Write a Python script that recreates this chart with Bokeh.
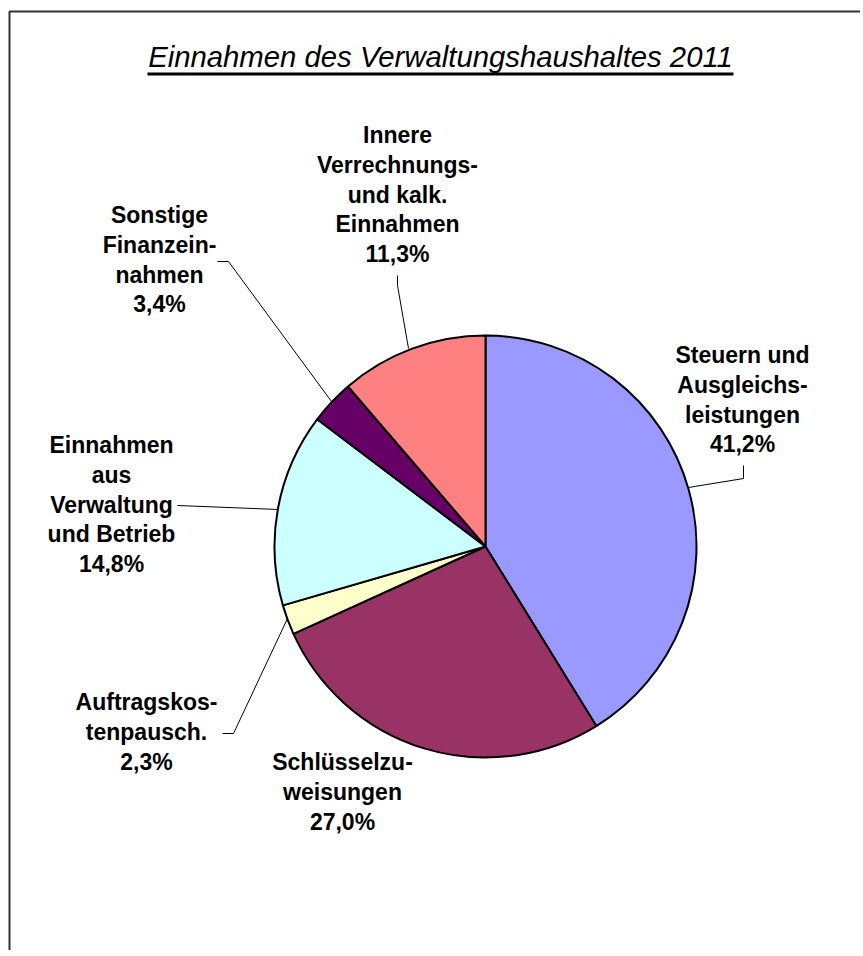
import math
from bokeh.plotting import figure
from bokeh.models import Range1d, ColumnDataSource
from bokeh.core.properties import value
from bokeh.embed import file_html
from bokeh.resources import INLINE

# ---- data ----
title_text = "Einnahmen des Verwaltungshaushaltes 2011"
categories = [
    "Steuern und\nAusgleichs-\nleistungen",
    "Schlüsselzu-\nweisungen",
    "Auftragskos-\ntenpausch.",
    "Einnahmen\naus\nVerwaltung\nund Betrieb",
    "Sonstige\nFinanzein-\nnahmen",
    "Innere\nVerrechnungs-\nund kalk.\nEinnahmen",
]
shares = [41.2, 27.0, 2.3, 14.8, 3.4, 11.3]
colors = ["#9999FF", "#993366", "#FFFFCC", "#CCFFFF", "#660066", "#FF8080"]

# ---- layout (screen pixel coordinates of the page) ----
W, H = 860, 950
OX, OY = 0, 0
def Y(ys):
    return (OY + H) - (ys - OY)  # convert screen y to data y

cx, cy, R = 485, 546, 211
label_anchor = [(742, 363), (342, 770), (146, 710), (111, 453), (159, 223), (397, 143)]
label_shift = 8.5
line_gap = 29.8
leaders = [
    [(688, 487), (743, 478), (743, 465)],
    None,
    [(222, 733), (233, 733), (287, 618)],
    [(177, 505), (278, 509)],
    [(217, 261), (228, 261), (331, 401)],
    [(397, 275), (397, 285), (408, 348)],
]

p = figure(width=W, height=H, output_backend="svg", toolbar_location=None,
           x_range=Range1d(OX, OX + W), y_range=Range1d(OY, OY + H),
           min_border=0, outline_line_color=None)
p.axis.visible = False
p.xgrid.visible = False
p.ygrid.visible = False
p.background_fill_color = "white"
p.border_fill_color = "white"

# frame
p.quad(left=[9], right=[OX + W + 20], top=[Y(11)], bottom=[Y(1100)],
       fill_color=None, line_color="#333333", line_width=2)

# pie wedges
total = sum(shares)
starts, ends = [], []
cum = 0.0
for v in shares:
    starts.append(math.pi / 2 - 2 * math.pi * cum / total)
    cum += v
    ends.append(math.pi / 2 - 2 * math.pi * cum / total)
src = ColumnDataSource(dict(x=[cx] * len(shares), y=[Y(cy)] * len(shares),
                            start=starts, end=ends, color=colors))
p.wedge(x="x", y="y", radius=R, radius_units="data", start_angle="start",
        end_angle="end", direction="clock", fill_color="color",
        line_color="black", line_width=2, source=src)

# leader lines
xs, ys = [], []
for L in leaders:
    if L:
        xs.append([pt[0] for pt in L])
        ys.append([Y(pt[1]) for pt in L])
p.multi_line(xs=xs, ys=ys, line_color="black", line_width=1)

# labels
tx, ty, tt = [], [], []
for cat, v, (ax, ay) in zip(categories, shares, label_anchor):
    lines = cat.split("\n") + [f"{v:.1f}%".replace(".", ",")]
    for i, ln in enumerate(lines):
        tx.append(ax)
        ty.append(Y(ay - label_shift + i * line_gap))
        tt.append(ln)
p.text(x=tx, y=ty, text=tt, text_font=value("Liberation Sans"),
       text_font_style="bold", text_font_size="23px", text_align="center",
       text_baseline="alphabetic", text_color="black")

# title
p.text(x=[440], y=[Y(67 - 11)], text=[title_text], text_font=value("Liberation Sans"),
       text_font_style="italic", text_font_size="29.3px", text_align="center",
       text_baseline="alphabetic", text_color="black")
p.segment(x0=[147], y0=[Y(73.5)], x1=[733], y1=[Y(73.5)], line_color="black", line_width=3)

open("out.html", "w").write(file_html(p, INLINE))
